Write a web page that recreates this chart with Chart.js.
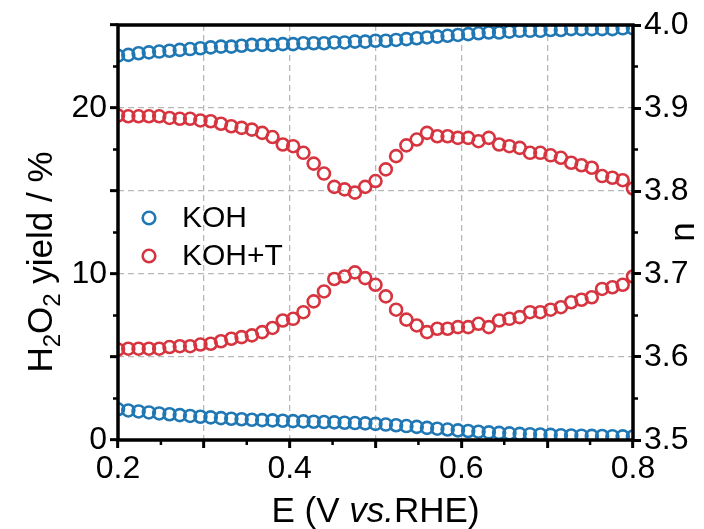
<!DOCTYPE html>
<html><head><meta charset="utf-8">
<script src="https://cdn.jsdelivr.net/npm/chart.js@4.4.0/dist/chart.umd.min.js"></script>
<style>html,body{margin:0;padding:0;background:#fff;}#wrap{width:704px;height:529px;}</style>
</head><body><div id="wrap"><canvas id="c" width="704" height="529"></canvas></div>
<script>
// ---- data ----
const potential = [
0.200,0.212,0.224,0.236,0.248,0.260,0.272,0.284,0.296,0.308,
0.320,0.332,0.344,0.356,0.368,0.380,0.392,0.404,0.416,0.428,
0.440,0.452,0.464,0.476,0.488,0.500,0.512,0.524,0.536,0.548,
0.560,0.572,0.584,0.596,0.608,0.620,0.632,0.644,0.656,0.668,
0.680,0.692,0.704,0.716,0.728,0.740,0.752,0.764,0.776,0.788,
0.800];
const h2o2KOH = [
1.85,1.78,1.72,1.66,1.60,1.55,1.50,1.45,1.40,1.36,
1.32,1.28,1.25,1.22,1.20,1.18,1.16,1.14,1.12,1.10,
1.08,1.06,1.04,1.02,1.00,0.97,0.93,0.89,0.84,0.79,
0.73,0.68,0.63,0.58,0.54,0.50,0.46,0.43,0.40,0.37,
0.35,0.33,0.31,0.29,0.27,0.26,0.25,0.24,0.23,0.22,
0.21];
const h2o2KOHT = [
5.45,5.50,5.50,5.50,5.50,5.60,5.65,5.65,5.75,5.80,
5.95,6.10,6.20,6.30,6.50,6.75,7.20,7.30,7.70,8.35,
8.95,9.70,9.85,10.10,9.75,9.35,8.65,7.85,7.25,6.90,
6.50,6.70,6.70,6.80,6.80,7.00,6.80,7.20,7.30,7.40,
7.70,7.70,7.85,8.00,8.30,8.45,8.60,9.10,9.20,9.35,
9.85];
const nKOH = [
3.963,3.964,3.966,3.967,3.968,3.969,3.970,3.971,3.972,3.973,
3.974,3.974,3.975,3.976,3.976,3.976,3.977,3.977,3.978,3.978,
3.978,3.979,3.979,3.980,3.980,3.981,3.981,3.982,3.983,3.984,
3.985,3.986,3.987,3.988,3.989,3.990,3.991,3.991,3.992,3.993,
3.993,3.993,3.994,3.994,3.995,3.995,3.995,3.995,3.995,3.996,
3.996];
const nKOHT = [
3.891,3.890,3.890,3.890,3.890,3.888,3.887,3.887,3.885,3.884,
3.881,3.878,3.876,3.874,3.870,3.865,3.856,3.854,3.846,3.833,
3.821,3.805,3.802,3.798,3.805,3.812,3.826,3.842,3.855,3.862,
3.870,3.866,3.866,3.864,3.864,3.860,3.864,3.856,3.854,3.852,
3.846,3.846,3.843,3.840,3.834,3.831,3.828,3.818,3.816,3.813,
3.803];
const seriesNames = ['KOH','KOH+T'];
const xMajor = [0.2,0.3,0.4,0.5,0.6,0.7,0.8];
const xMinor = [0.25,0.35,0.45,0.55,0.65,0.75];
const xTickLabels = ['0.2','0.4','0.6','0.8'];
const leftMajor = [0,5,10,15,20,25];
const leftMinor = [2.5,7.5,12.5,17.5,22.5];
const leftTickLabels = ['0','10','20'];
const rightMajor = [3.5,3.6,3.7,3.8,3.9,4.0];
const rightMinor = [3.55,3.65,3.75,3.85,3.95];
const rightTickLabels = ['3.5','3.6','3.7','3.8','3.9','4.0'];

const BLUE = '#1f77b4', RED = '#d6343f';
const FONT = '"Liberation Sans", Arial, sans-serif';
const GRID = '#b8b8b8';

function pts(ys){ return potential.map((x,i)=>({x:x,y:ys[i]})); }
function lab(list, v){ const f = list.find(l=>Math.abs(parseFloat(l)-v)<1e-6); return f===undefined?'':f; }

function ds(label, data, color, axis){
  return {label:label, data:data, yAxisID:axis, showLine:false,
    pointStyle:'circle', pointRadius:6, pointHoverRadius:6,
    pointBorderWidth:2.6, pointBorderColor:color, pointBackgroundColor:'rgba(0,0,0,0)',
    borderColor:color, backgroundColor:'rgba(0,0,0,0)'};
}

const decor = {
  id:'decor',
  afterDatasetsDraw(chart){
    const ctx = chart.ctx, a = chart.chartArea;
    const sx = chart.scales.x, sl = chart.scales.yL, sr = chart.scales.yR;
    ctx.save();
    ctx.strokeStyle = '#000'; ctx.lineWidth = 2.5; ctx.lineCap='butt';
    xMinor.forEach(v=>{ const p = sx.getPixelForValue(v); ctx.beginPath(); ctx.moveTo(p,a.bottom); ctx.lineTo(p,a.bottom+5); ctx.stroke(); });
    leftMinor.forEach(v=>{ const p = sl.getPixelForValue(v); ctx.beginPath(); ctx.moveTo(a.left,p); ctx.lineTo(a.left-5,p); ctx.stroke(); });
    rightMinor.forEach(v=>{ const p = sr.getPixelForValue(v); ctx.beginPath(); ctx.moveTo(a.right,p); ctx.lineTo(a.right+5,p); ctx.stroke(); });
    ctx.lineWidth = 3.5;
    ctx.strokeRect(a.left, a.top, a.right-a.left, a.bottom-a.top);
    ctx.restore();
  },
  afterDraw(chart){
    const ctx = chart.ctx, a = chart.chartArea;
    ctx.save();
    ctx.fillStyle = '#000';
    ctx.textBaseline = 'alphabetic';
    const parts = [['E (V ','normal'],['vs.','italic'],['RHE)','normal']];
    const fs = 35;
    let w = 0;
    parts.forEach(p=>{ ctx.font = p[1]+' '+fs+'px '+FONT; w += ctx.measureText(p[0]).width; });
    let x = (a.left+a.right)/2 - w/2;
    const yb = 522;
    parts.forEach(p=>{ ctx.font = p[1]+' '+fs+'px '+FONT; ctx.textAlign='left'; ctx.fillText(p[0], x, yb); x += ctx.measureText(p[0]).width; });
    const lp = [['H',fs,0],['2',24,8],['O',fs,0],['2',24,8],[' yield / %',fs,0]];
    let lw = 0;
    lp.forEach(p=>{ ctx.font = p[1]+'px '+FONT; lw += ctx.measureText(p[0]).width; });
    ctx.save();
    ctx.translate(52, 262);
    ctx.rotate(-Math.PI/2);
    let lx = -lw/2;
    lp.forEach(p=>{ ctx.font = p[1]+'px '+FONT; ctx.textAlign='left'; ctx.fillText(p[0], lx, p[2]); lx += ctx.measureText(p[0]).width; });
    ctx.restore();
    ctx.save();
    ctx.translate(694, 232);
    ctx.rotate(-Math.PI/2);
    ctx.font = fs+'px '+FONT; ctx.textAlign='center';
    ctx.fillText('n', 0, 0);
    ctx.restore();
    const items = [[seriesNames[0], BLUE, 218],[seriesNames[1], RED, 256]];
    items.forEach(it=>{
      ctx.beginPath(); ctx.lineWidth = 2.6; ctx.strokeStyle = it[1];
      ctx.arc(149, it[2], 6.3, 0, Math.PI*2); ctx.stroke();
      ctx.font = '30px '+FONT; ctx.textAlign='left'; ctx.textBaseline='middle';
      ctx.fillText(it[0], 182, it[2]+1);
    });
    ctx.restore();
  }
};

new Chart(document.getElementById('c'), {
  type:'scatter',
  data:{datasets:[
    ds(seriesNames[0], pts(h2o2KOH), BLUE, 'yL'),
    ds(seriesNames[1], pts(h2o2KOHT), RED, 'yL'),
    ds(seriesNames[0]+' n', pts(nKOH), BLUE, 'yR'),
    ds(seriesNames[1]+' n', pts(nKOHT), RED, 'yR')
  ]},
  options:{
    responsive:false, animation:false, devicePixelRatio:1,
    layout:{padding:{top:25,left:0,right:0,bottom:0}},
    plugins:{legend:{display:false}, tooltip:{enabled:false}},
    scales:{
      x:{type:'linear', position:'bottom', min:0.2, max:0.8,
        afterBuildTicks:s=>{ s.ticks = xMajor.map(v=>({value:v})); },
        afterFit:s=>{ s.height = 89; },
        ticks:{autoSkip:false, maxRotation:0, color:'#000', padding:2, font:{size:32, family:FONT},
          callback:v=>lab(xTickLabels, v)},
        grid:{drawTicks:true, tickLength:8, tickWidth:3, tickColor:'#000', lineWidth:1.3,
          color:c=> (c.tick && c.tick.value>0.21 && c.tick.value<0.79) ? GRID : 'rgba(0,0,0,0)'},
        border:{display:false, dash:[6,4]}
      },
      yL:{type:'linear', position:'left', min:0, max:25,
        afterBuildTicks:s=>{ s.ticks = leftMajor.map(v=>({value:v})); },
        afterFit:s=>{ s.width = 118; },
        ticks:{autoSkip:false, color:'#000', padding:3, font:{size:32, family:FONT},
          callback:v=>lab(leftTickLabels, v)},
        grid:{drawTicks:true, tickLength:8, tickWidth:3, tickColor:'#000', lineWidth:1.3,
          color:c=> (c.tick && c.tick.value>0.1 && c.tick.value<24.9) ? GRID : 'rgba(0,0,0,0)'},
        border:{display:false, dash:[6,4]}
      },
      yR:{type:'linear', position:'right', min:3.5, max:4.0,
        afterBuildTicks:s=>{ s.ticks = rightMajor.map(v=>({value:v})); },
        afterFit:s=>{ s.width = 71; },
        ticks:{autoSkip:false, color:'#000', padding:3, font:{size:32, family:FONT},
          callback:v=>lab(rightTickLabels, v)},
        grid:{drawOnChartArea:false, drawTicks:true, tickLength:8, tickWidth:3, tickColor:'#000'},
        border:{display:false}
      }
    }
  },
  plugins:[decor]
});
</script></body></html>
